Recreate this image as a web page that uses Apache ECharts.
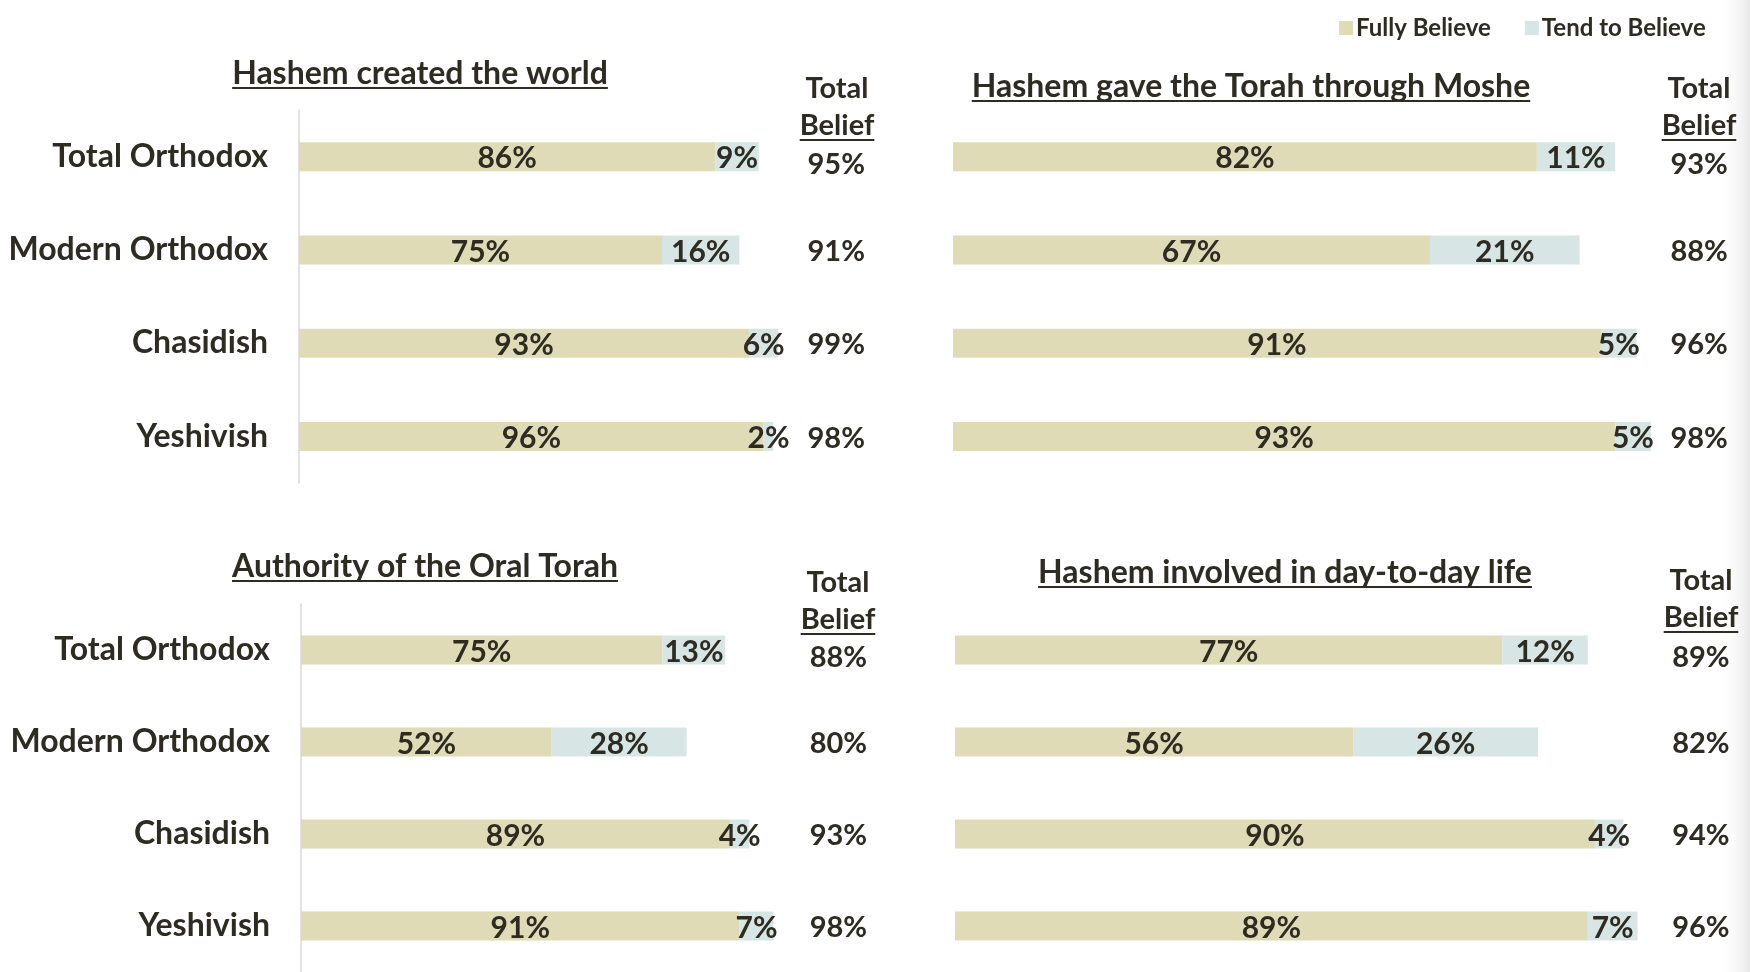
<!DOCTYPE html>
<html>
<head>
<meta charset="utf-8">
<title>Beliefs by group</title>
<script src="https://cdn.jsdelivr.net/npm/echarts@6/dist/echarts.min.js"></script>
<style>
html, body { margin: 0; padding: 0; background: #fff; }
#main { width: 1750px; height: 972px; }
</style>
</head>
<body>
<div id="main"></div>
<script>
var groups = ['Total Orthodox', 'Modern Orthodox', 'Chasidish', 'Yeshivish'];
var seriesNames = ['Fully Believe', 'Tend to Believe'];
var panelTitles = [
    'Hashem created the world',
    'Hashem gave the Torah through Moshe',
    'Authority of the Oral Torah',
    'Hashem involved in day-to-day life'
];

// Hashem created the world
var createdFully = [86, 75, 93, 96];
var createdTend = [9, 16, 6, 2];
var createdTotal = [95, 91, 99, 98];
// Hashem gave the Torah through Moshe
var torahFully = [82, 67, 91, 93];
var torahTend = [11, 21, 5, 5];
var torahTotal = [93, 88, 96, 98];
// Authority of the Oral Torah
var oralFully = [75, 52, 89, 91];
var oralTend = [13, 28, 4, 7];
var oralTotal = [88, 80, 93, 98];
// Hashem involved in day-to-day life
var dailyFully = [77, 56, 90, 89];
var dailyTend = [12, 26, 4, 7];
var dailyTotal = [89, 82, 94, 96];

var FONT = 'Lato';
var INK = '#2d2b22';
var BEIGE = '#dfdbb6';
var BLUE = '#d7e5e5';
var SIZE = 30;

// layout of the 4 panels (px of 100% bar, axis max, x of the "total" column)
var panels = [
    { fully: createdFully, tend: createdTend, total: createdTotal, left: 299, top: 110, w100: 484, max: 120, totalX: 111, axis: true,
      title: [420, 74], head: [837, 89] },
    { fully: torahFully, tend: torahTend, total: torahTotal, left: 953, top: 110, w100: 712, max: 110, totalX: 104.8, axis: false,
      title: [1251, 87], head: [1699, 89] },
    { fully: oralFully, tend: oralTend, total: oralTotal, left: 301, top: 604, w100: 482, max: 120, totalX: 111.5, axis: true,
      title: [425, 567], head: [838, 583] },
    { fully: dailyFully, tend: dailyTend, total: dailyTotal, left: 955, top: 604, w100: 711, max: 110, totalX: 104.9, axis: false,
      title: [1285, 573], head: [1701, 581] }
];

var ctx = document.createElement('canvas').getContext('2d');
function textWidth(str, size) {
    ctx.font = 'bold ' + size + 'px ' + FONT;
    return ctx.measureText(str).width;
}

function label(str, x, y, size) {
    return {
        type: 'text', x: x, y: y, z: 10,
        style: {
            text: str, fill: INK, font: 'bold ' + size + 'px ' + FONT,
            align: 'center', verticalAlign: 'middle', textAlign: 'center', textVerticalAlign: 'middle'
        }
    };
}
function underline(str, x, y, size) {
    var w = textWidth(str, size);
    return {
        type: 'line', z: 10,
        shape: { x1: x - w / 2, y1: y + 14, x2: x + w / 2, y2: y + 14 },
        style: { stroke: INK, lineWidth: 2 }
    };
}

var grid = [], xAxis = [], yAxis = [], series = [], graphic = [];

// soft shadow at the right edge of the slide
graphic.push({
    type: 'rect', z: -10,
    shape: { x: 1718, y: 0, width: 32, height: 972 },
    style: { fill: new echarts.graphic.LinearGradient(0, 0, 1, 0, [
        { offset: 0, color: 'rgba(255,255,255,0)' },
        { offset: 1, color: 'rgba(0,0,0,0.09)' }
    ]) }
});

panels.forEach(function (p, i) {
    grid.push({ left: p.left, top: p.top, width: p.w100 * p.max / 100, height: 373 });
    xAxis.push({ gridIndex: i, type: 'value', min: 0, max: p.max, show: false });
    yAxis.push({
        gridIndex: i, type: 'category', data: groups, inverse: true,
        axisLine: { show: p.axis, lineStyle: { color: '#d9d9d9', width: 1.5 } },
        axisTick: { show: false },
        axisLabel: { show: p.axis, margin: 31, color: INK, fontFamily: FONT, fontWeight: 'bold', fontSize: 32 }
    });
    series.push({
        name: seriesNames[0], type: 'bar', stack: 's' + i, xAxisIndex: i, yAxisIndex: i,
        data: p.fully, barWidth: 29, itemStyle: { color: BEIGE },
        label: { show: true, position: 'inside', offset: [0, 2], formatter: '{c}%', color: INK, fontFamily: FONT, fontWeight: 'bold', fontSize: SIZE }
    });
    series.push({
        name: seriesNames[1], type: 'bar', stack: 's' + i, xAxisIndex: i, yAxisIndex: i,
        data: p.tend, barWidth: 29, itemStyle: { color: BLUE },
        label: { show: true, position: 'inside', offset: [0, 2], formatter: '{c}%', color: INK, fontFamily: FONT, fontWeight: 'bold', fontSize: SIZE }
    });
    series.push({
        name: 'Total Belief', type: 'scatter', xAxisIndex: i, yAxisIndex: i, clip: false,
        symbolSize: 0, silent: true, itemStyle: { opacity: 1 },
        data: p.total.map(function (t, k) {
            return { value: [p.totalX, groups[k]], label: { offset: [0, k === 0 ? 8 : 2] } };
        }),
        label: {
            show: true, position: 'inside', color: INK, opacity: 1, fontFamily: FONT, fontWeight: 'bold', fontSize: 29,
            formatter: function (d) { return p.total[d.dataIndex] + '%'; }
        }
    });

    graphic.push(label(panelTitles[i], p.title[0], p.title[1], 32));
    graphic.push(underline(panelTitles[i], p.title[0], p.title[1], 32));
    graphic.push(label('Total', p.head[0], p.head[1], 29));
    graphic.push(label('Belief', p.head[0], p.head[1] + 37, 29));
    graphic.push(underline('Belief', p.head[0], p.head[1] + 37, 29));
});

var chart = echarts.init(document.getElementById('main'));
chart.setOption({
    animation: false,
    backgroundColor: '#ffffff',
    color: [BEIGE, BLUE],
    legend: {
        data: seriesNames,
        left: 1334, top: 11,
        icon: 'rect', itemWidth: 14, itemHeight: 14, itemGap: 34,
        textStyle: { color: INK, fontFamily: FONT, fontWeight: 'bold', fontSize: 24, padding: [0, 0, 0, -2] }
    },
    grid: grid,
    xAxis: xAxis,
    yAxis: yAxis,
    series: series,
    graphic: graphic
});
</script>
</body>
</html>
